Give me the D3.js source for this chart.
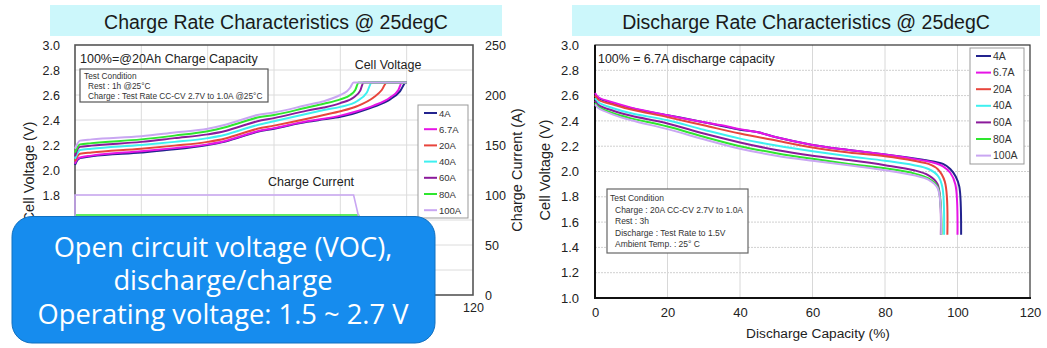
<!DOCTYPE html>
<html><head><meta charset="utf-8">
<script src="https://cdn.jsdelivr.net/npm/d3@7"></script>
<style>
html,body{margin:0;padding:0;background:#fff;}
svg{display:block;font-family:"Liberation Sans",Arial,sans-serif;}
</style></head>
<body>
<svg id="c" width="1047" height="348"></svg>
<script>
// ---------- DATA ----------
const rates = ["4A","6.7A","20A","40A","60A","80A","100A"];
const rateColors = ["#23238e","#e614e6","#e8453c","#3ff0f0","#8b1a9b","#2ee62e","#c9a6f2"];
const xTicks = [0,20,40,60,80,100,120];
const vTicks = [1.0,1.2,1.4,1.6,1.8,2.0,2.2,2.4,2.6,2.8,3.0];
const iTicks = [0,50,100,150,200,250];
// tick labels of the charge chart that are not covered by the callout box
const chargeVisibleXTicks = [120];
const chargeVisibleVTicks = [1.6,1.8,2.0,2.2,2.4,2.6,2.8,3.0];

// Charge: cell voltage (capacity %, V)
const chargeV4A   = [[0,2.04],[0.5,2.07],[1.5,2.095],[5,2.11],[20,2.14],[30,2.165],[40,2.2],[45,2.225],[50,2.265],[55,2.305],[60,2.33],[70,2.385],[75,2.405],[80,2.425],[85,2.46],[90,2.505],[95,2.565],[98,2.63],[99.8,2.7],[100,2.7]];
const chargeV6_7A = [[0,2.05],[0.5,2.08],[1.5,2.1],[5,2.115],[20,2.15],[30,2.175],[40,2.205],[45,2.23],[50,2.27],[55,2.31],[60,2.335],[70,2.39],[75,2.41],[80,2.435],[85,2.47],[90,2.515],[95,2.58],[97.5,2.64],[98.6,2.7],[100,2.7]];
const chargeV20A  = [[0,2.07],[0.5,2.1],[1.5,2.13],[5,2.14],[20,2.17],[30,2.195],[40,2.225],[45,2.25],[50,2.29],[55,2.33],[60,2.355],[70,2.41],[75,2.44],[80,2.47],[85,2.51],[90,2.58],[92.5,2.64],[94,2.7],[100,2.7]];
const chargeV40A  = [[0,2.09],[0.5,2.12],[1.5,2.16],[5,2.17],[20,2.2],[30,2.225],[40,2.255],[45,2.28],[50,2.32],[55,2.36],[60,2.39],[70,2.45],[75,2.48],[80,2.505],[85,2.55],[88,2.62],[89.5,2.7],[100,2.7]];
const chargeV60A  = [[0,2.11],[0.5,2.15],[1.5,2.185],[5,2.195],[20,2.225],[30,2.255],[40,2.285],[45,2.31],[50,2.35],[55,2.39],[60,2.415],[70,2.475],[75,2.5],[80,2.535],[84,2.58],[86,2.635],[87,2.7],[100,2.7]];
const chargeV80A  = [[0,2.14],[0.5,2.17],[1.5,2.205],[5,2.215],[20,2.245],[30,2.275],[40,2.31],[45,2.34],[50,2.38],[55,2.42],[60,2.44],[70,2.5],[75,2.53],[80,2.565],[83,2.6],[84.5,2.64],[85.5,2.7],[100,2.7]];
const chargeV100A = [[0,2.17],[0.5,2.2],[1.5,2.235],[5,2.245],[20,2.27],[30,2.3],[40,2.33],[45,2.36],[50,2.4],[55,2.44],[60,2.46],[70,2.52],[75,2.55],[80,2.6],[82,2.63],[83,2.66],[84,2.7],[100,2.7]];

// Charge: current (capacity %, A)
const chargeI4A   = [[0,0],[0,4],[99.8,4],[100,1]];
const chargeI6_7A = [[0,0],[0,6.7],[98.6,6.7],[99.3,3],[100,1]];
const chargeI20A  = [[0,0],[0,20],[94,20],[95,12],[97,5],[100,1]];
const chargeI40A  = [[0,0],[0,40],[89.5,40],[91,25],[93,14],[96,6],[100,1]];
const chargeI60A  = [[0,0],[0,60],[87,60],[88.5,40],[91,20],[95,8],[100,1]];
const chargeI80A  = [[0,0],[0,80],[85.5,80],[87,60],[88.5,40],[91,20],[95,8],[100,1]];
const chargeI100A = [[0,0],[0,100],[84,100],[85.4,80],[86.5,60],[88,40],[91,20],[95,8],[100,1]];

// Discharge: cell voltage (capacity %, V)
const dischV4A   = [[0,2.61],[1,2.58],[5,2.54],[10,2.5],[20,2.445],[30,2.39],[35,2.36],[40,2.33],[45,2.31],[50,2.27],[60,2.21],[70,2.17],[80,2.135],[90,2.095],[94,2.075],[96,2.06],[98,2.02],[99.5,1.96],[100.5,1.88],[101,1.5]];
const dischV6_7A = [[0,2.62],[1,2.585],[5,2.545],[10,2.505],[20,2.445],[30,2.39],[35,2.365],[40,2.335],[45,2.31],[50,2.27],[60,2.21],[70,2.17],[80,2.135],[90,2.09],[94,2.065],[96,2.04],[98,1.99],[99.4,1.9],[100,1.5]];
const dischV20A  = [[0,2.6],[1,2.565],[5,2.53],[10,2.49],[20,2.43],[30,2.365],[40,2.3],[50,2.245],[60,2.19],[70,2.15],[80,2.12],[88,2.085],[92,2.06],[94.5,2.02],[96.5,1.92],[97.2,1.5]];
const dischV40A  = [[0,2.58],[1,2.545],[5,2.5],[10,2.46],[20,2.405],[30,2.33],[40,2.26],[50,2.205],[60,2.16],[70,2.12],[80,2.085],[88,2.05],[92,2.02],[94.5,1.97],[95.8,1.88],[96.3,1.5]];
const dischV60A  = [[0,2.56],[1,2.525],[5,2.48],[10,2.44],[20,2.38],[30,2.3],[40,2.23],[50,2.17],[60,2.125],[70,2.09],[80,2.05],[88,2.01],[92,1.97],[94.5,1.9],[95.4,1.5]];
const dischV80A  = [[0,2.54],[1,2.51],[5,2.46],[10,2.42],[20,2.355],[30,2.275],[40,2.2],[50,2.145],[60,2.1],[70,2.06],[80,2.025],[88,1.985],[92,1.945],[94.5,1.88],[95.6,1.5]];
const dischV100A = [[0,2.53],[1,2.5],[5,2.45],[10,2.405],[20,2.335],[30,2.255],[40,2.18],[50,2.125],[60,2.085],[70,2.05],[80,2.01],[88,1.97],[92,1.935],[94.5,1.87],[95.5,1.5]];

const chargeVoltage = [chargeV4A,chargeV6_7A,chargeV20A,chargeV40A,chargeV60A,chargeV80A,chargeV100A];
const chargeCurrent = [chargeI4A,chargeI6_7A,chargeI20A,chargeI40A,chargeI60A,chargeI80A,chargeI100A];
const dischargeVoltage = [dischV4A,dischV6_7A,dischV20A,dischV40A,dischV60A,dischV80A,dischV100A];

const chargeTitle = "Charge Rate Characteristics @ 25degC";
const dischargeTitle = "Discharge Rate Characteristics @ 25degC";
const chargeNotes = ["Test Condition","Rest : 1h @25°C","Charge : Test Rate CC-CV 2.7V to 1.0A @25°C"];
const dischargeNotes = ["Test Condition","Charge : 20A CC-CV 2.7V to 1.0A","Rest : 3h","Discharge : Test Rate to 1.5V","Ambient Temp. : 25° C"];
const calloutLines = ["Open circuit voltage (VOC),","discharge/charge","Operating voltage: 1.5 ~ 2.7 V"];

// ---------- DRAW ----------
const svg = d3.select("#c");
const fmt1 = d3.format(".1f");

function banner(x0,x1,text){
  svg.append("rect").attr("x",x0).attr("y",5).attr("width",x1-x0).attr("height",31).attr("fill","#ccf7fb");
  svg.append("text").attr("x",(x0+x1)/2).attr("y",28.5).attr("text-anchor","middle")
    .attr("font-size",19.5).attr("fill","#1a1a1a").text(text);
}

function legend(g,x,y,w,h,dy,fs,lineLen){
  g.append("rect").attr("x",x).attr("y",y).attr("width",w).attr("height",h)
    .attr("fill","#fff").attr("stroke","#999").attr("stroke-width",1);
  rates.forEach((r,i)=>{
    const yy = y+8+i*dy;
    g.append("line").attr("x1",x+6).attr("x2",x+6+lineLen).attr("y1",yy).attr("y2",yy)
      .attr("stroke",rateColors[i]).attr("stroke-width",2);
    g.append("text").attr("x",x+8+lineLen).attr("y",yy+3.5).attr("font-size",fs)
      .attr("fill","#333").text(r);
  });
}

// ===== Left: charge chart =====
(function(){
  const x = d3.scaleLinear().domain([0,120]).range([75,473]);
  const yV = d3.scaleLinear().domain([1,3]).range([295,45]);
  const yI = d3.scaleLinear().domain([0,250]).range([295,45]);
  banner(50,502,chargeTitle);
  const g = svg.append("g");
  // grid
  g.append("g").selectAll("line").data(vTicks.slice(1,-1)).join("line")
    .attr("x1",75).attr("x2",473).attr("y1",d=>yV(d)).attr("y2",d=>yV(d))
    .attr("stroke","#dcdcdc").attr("stroke-width",1);
  g.append("g").selectAll("line").data(xTicks.slice(1,-1)).join("line")
    .attr("y1",45).attr("y2",295).attr("x1",d=>x(d)).attr("x2",d=>x(d))
    .attr("stroke","#dcdcdc").attr("stroke-width",1);
  // axes
  const ax = g.append("g").attr("transform","translate(75,0)")
    .call(d3.axisLeft(yV).tickValues(chargeVisibleVTicks).tickFormat(fmt1).tickSize(0).tickPadding(15));
  const axR = g.append("g").attr("transform","translate(473,0)")
    .call(d3.axisRight(yI).tickValues(iTicks).tickSize(0).tickPadding(12));
  const axB = g.append("g").attr("transform","translate(0,295)")
    .call(d3.axisBottom(x).tickValues(chargeVisibleXTicks).tickSize(0).tickPadding(8));
  [ax,axR,axB].forEach(a=>{a.select(".domain").remove();
    a.selectAll("text").attr("font-size",12.5).attr("fill","#222").attr("font-family","Liberation Sans, Arial, sans-serif");});
  // frame
  g.append("rect").attr("x",75).attr("y",45).attr("width",398).attr("height",250)
    .attr("fill","none").attr("stroke","#555").attr("stroke-width",1.6);
  // axis titles
  g.append("text").attr("transform","translate(34,172) rotate(-90)").attr("text-anchor","middle")
    .attr("font-size",14.5).attr("fill","#222").text("Cell Voltage (V)");
  g.append("text").attr("transform","translate(522,170) rotate(-90)").attr("text-anchor","middle")
    .attr("font-size",14.5).attr("fill","#222").text("Charge Current (A)");
  // lines
  const lineV = d3.line().x(d=>x(d[0])).y(d=>yV(d[1])).curve(d3.curveMonotoneX);
  const lineI = d3.line().x(d=>x(d[0])).y(d=>yI(d[1]));
  chargeCurrent.forEach((s,i)=>g.append("path").attr("d",lineI(s)).attr("fill","none")
    .attr("stroke",rateColors[i]).attr("stroke-width",1.6));
  chargeVoltage.forEach((s,i)=>g.append("path").attr("d",lineV(s)).attr("fill","none")
    .attr("stroke",rateColors[i]).attr("stroke-width",2));
  // annotations
  g.append("text").attr("x",80).attr("y",62.5).attr("font-size",12.5).attr("fill","#222").text("100%=@20Ah Charge Capacity");
  g.append("rect").attr("x",80).attr("y",69).attr("width",188).attr("height",33)
    .attr("fill","#fff").attr("stroke","#555").attr("stroke-width",1.2);
  chargeNotes.forEach((t,i)=>g.append("text").attr("x",i===0?84:88).attr("y",79+i*10)
    .attr("font-size",8.3).attr("fill","#333").text(t));
  g.append("text").attr("x",388).attr("y",69).attr("text-anchor","middle").attr("font-size",12.5).attr("fill","#222").text("Cell Voltage");
  g.append("text").attr("x",311).attr("y",186).attr("text-anchor","middle").attr("font-size",12.5).attr("fill","#222").text("Charge Current");
  legend(g,418,105,50,113,16.2,9.5,13);
})();

// ===== Right: discharge chart =====
(function(){
  const x = d3.scaleLinear().domain([0,120]).range([595,1030]);
  const y = d3.scaleLinear().domain([1,3]).range([298,45]);
  banner(572,1040,dischargeTitle);
  const g = svg.append("g");
  g.append("g").selectAll("line").data(vTicks.slice(1,-1)).join("line")
    .attr("x1",595).attr("x2",1030).attr("y1",d=>y(d)).attr("y2",d=>y(d))
    .attr("stroke","#d0d0d0").attr("stroke-width",1).attr("stroke-dasharray","2,1");
  g.append("g").selectAll("line").data(xTicks.slice(1,-1)).join("line")
    .attr("y1",45).attr("y2",298).attr("x1",d=>x(d)).attr("x2",d=>x(d))
    .attr("stroke","#d8d8d8").attr("stroke-width",1);
  const ax = g.append("g").attr("transform","translate(595,0)")
    .call(d3.axisLeft(y).tickValues(vTicks).tickFormat(fmt1).tickSize(0).tickPadding(16));
  const axB = g.append("g").attr("transform","translate(0,298)")
    .call(d3.axisBottom(x).tickValues(xTicks).tickSize(0).tickPadding(10));
  [ax,axB].forEach(a=>{a.select(".domain").remove();
    a.selectAll("text").attr("font-size",13).attr("fill","#222").attr("font-family","Liberation Sans, Arial, sans-serif");});
  g.append("rect").attr("x",595).attr("y",45).attr("width",435).attr("height",253)
    .attr("fill","none").attr("stroke","#333").attr("stroke-width",1.2);
  g.append("line").attr("x1",595).attr("x2",595).attr("y1",45).attr("y2",298).attr("stroke","#111").attr("stroke-width",2);
  g.append("line").attr("x1",594).attr("x2",1031).attr("y1",298).attr("y2",298).attr("stroke","#111").attr("stroke-width",2);
  g.append("text").attr("transform","translate(550,170) rotate(-90)").attr("text-anchor","middle")
    .attr("font-size",14.5).attr("fill","#222").text("Cell Voltage (V)");
  g.append("text").attr("x",818).attr("y",338).attr("text-anchor","middle")
    .attr("font-size",13.7).attr("fill","#222").text("Discharge Capacity (%)");
  const lineX = d3.line().x(d=>x(d[0])).y(d=>y(d[1])).curve(d3.curveCatmullRom.alpha(0.5));
  dischargeVoltage.forEach((s,i)=>g.append("path").attr("d",lineX(s)).attr("fill","none")
    .attr("stroke",rateColors[i]).attr("stroke-width",2));
  g.append("text").attr("x",598).attr("y",62.5).attr("font-size",12.4).attr("fill","#222").text("100% = 6.7A discharge capacity");
  g.append("rect").attr("x",607).attr("y",189).attr("width",141).attr("height",64)
    .attr("fill","#fff").attr("stroke","#666").attr("stroke-width",1.2);
  dischargeNotes.forEach((t,i)=>g.append("text").attr("x",i===0?610:615).attr("y",201+i*11.5)
    .attr("font-size",8.5).attr("fill","#333").text(t));
  legend(g,970,48,54,116,16.6,10.5,15);
})();

// ===== Callout box =====
(function(){
  const g = svg.append("g");
  g.append("rect").attr("x",12).attr("y",216.5).attr("width",423).attr("height",126.5)
    .attr("rx",20).attr("ry",20).attr("fill","#168cee").attr("stroke","#1170c0").attr("stroke-width",1);
  calloutLines.forEach((t,i)=>g.append("text").attr("x",223).attr("y",257+i*33.3)
    .attr("text-anchor","middle").attr("font-family","Open Sans, Noto Sans, sans-serif")
    .attr("font-size",27.3).attr("fill","#fff").text(t));
})();
</script>
</body></html>
